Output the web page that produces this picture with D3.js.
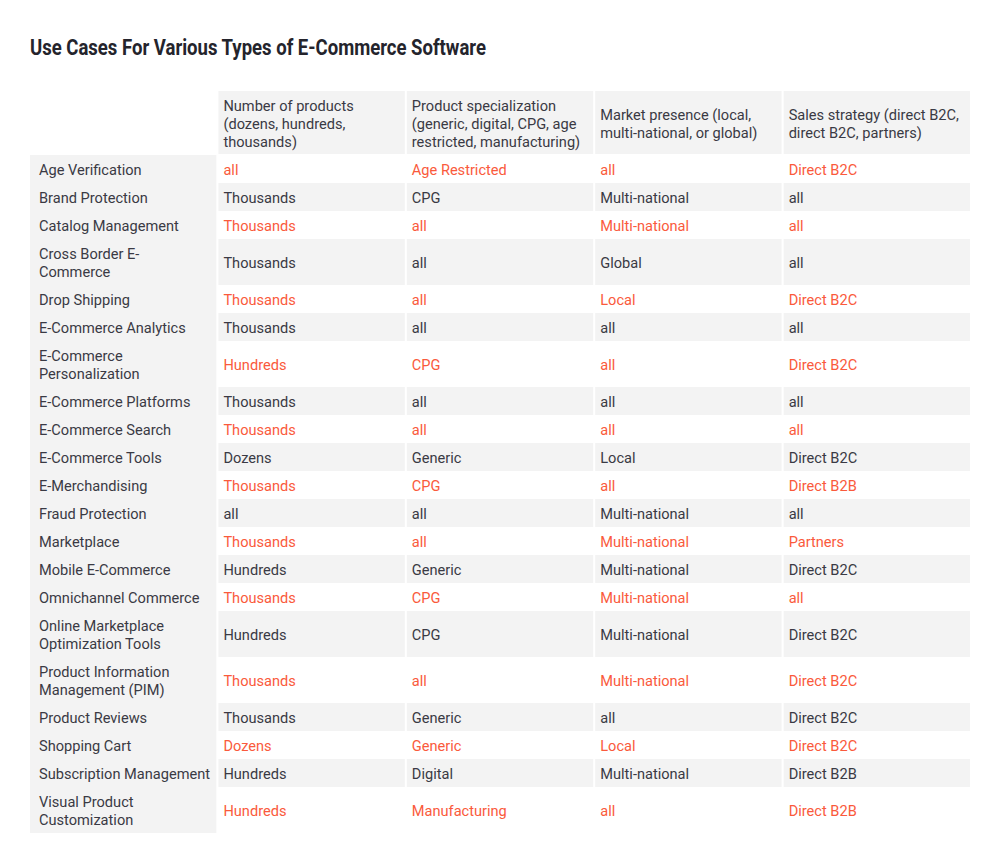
<!DOCTYPE html>
<html>
<head>
<meta charset="utf-8">
<script src="https://cdn.jsdelivr.net/npm/d3@7"></script>
<style>
  html, body { margin: 0; padding: 0; background: #fff; }
  svg { display: block; }
</style>
</head>
<body>
<svg id="chart" width="1000" height="864"></svg>
<script>
const title = "Use Cases For Various Types of E-Commerce Software";

const headers = [
  ["Number of products", "(dozens, hundreds,", "thousands)"],
  ["Product specialization", "(generic, digital, CPG, age", "restricted, manufacturing)"],
  ["Market presence (local,", "multi-national, or global)"],
  ["Sales strategy (direct B2C,", "direct B2C, partners)"]
];

const useCases = [
  ["Age Verification"],
  ["Brand Protection"],
  ["Catalog Management"],
  ["Cross Border E-", "Commerce"],
  ["Drop Shipping"],
  ["E-Commerce Analytics"],
  ["E-Commerce", "Personalization"],
  ["E-Commerce Platforms"],
  ["E-Commerce Search"],
  ["E-Commerce Tools"],
  ["E-Merchandising"],
  ["Fraud Protection"],
  ["Marketplace"],
  ["Mobile E-Commerce"],
  ["Omnichannel Commerce"],
  ["Online Marketplace", "Optimization Tools"],
  ["Product Information", "Management (PIM)"],
  ["Product Reviews"],
  ["Shopping Cart"],
  ["Subscription Management"],
  ["Visual Product", "Customization"]
];

const numberOfProducts = ["all","Thousands","Thousands","Thousands","Thousands","Thousands","Hundreds","Thousands","Thousands","Dozens","Thousands","all","Thousands","Hundreds","Thousands","Hundreds","Thousands","Thousands","Dozens","Hundreds","Hundreds"];
const productSpecialization = ["Age Restricted","CPG","all","all","all","all","CPG","all","all","Generic","CPG","all","all","Generic","CPG","CPG","all","Generic","Generic","Digital","Manufacturing"];
const marketPresence = ["all","Multi-national","Multi-national","Global","Local","all","all","all","all","Local","all","Multi-national","Multi-national","Multi-national","Multi-national","Multi-national","Multi-national","all","Local","Multi-national","all"];
const salesStrategy = ["Direct B2C","all","all","all","Direct B2C","all","Direct B2C","all","all","Direct B2C","Direct B2B","all","Partners","Direct B2C","all","Direct B2C","Direct B2C","Direct B2C","Direct B2C","Direct B2B","Direct B2B"];

const columns = [numberOfProducts, productSpecialization, marketPresence, salesStrategy];

// ---- layout ----
const FONT = "Roboto, 'Noto Sans', sans-serif";
const DARK = "#3a3a44";
const RED = "#fa5a3c";
const GRAY = "#f3f3f3";
const LINE = 18;
const FS = 14.6;

const svg = d3.select("#chart");

svg.append("text")
  .attr("x", 30).attr("y", 55)
  .attr("font-family", FONT)
  .attr("font-weight", 700)
  .attr("font-size", 22.5)
  .attr("fill", "#24242c")
  .attr("textLength", 456)
  .attr("lengthAdjust", "spacingAndGlyphs")
  .text(title);

const x = d3.scaleBand()
  .domain(d3.range(5))
  .range([30, 970])
  .paddingInner(0.0108)
  .paddingOuter(0);

const headerTop = 91;
const headerH = 64;
const rowsTop = headerTop + headerH;

// row heights from line counts
const rowH = useCases.map(r => 28 + (r.length - 1) * LINE);
const rowY = [];
let acc = rowsTop;
rowH.forEach(h => { rowY.push(acc); acc += h; });

// header cells
const hdr = svg.append("g");
headers.forEach((lines, j) => {
  const x0 = x(j + 1);
  hdr.append("rect")
    .attr("x", x0).attr("y", headerTop)
    .attr("width", x.bandwidth()).attr("height", headerH - 1)
    .attr("fill", GRAY);
  const t = hdr.append("text")
    .attr("font-family", FONT).attr("font-size", FS).attr("fill", DARK);
  const n = lines.length;
  const startY = headerTop + headerH / 2 - (n - 1) * LINE / 2 + 6;
  lines.forEach((ln, k) => {
    t.append("tspan").attr("x", x0 + 5).attr("y", startY + k * LINE).text(ln);
  });
});

// first column background (continuous)
svg.append("rect")
  .attr("x", x(0)).attr("y", rowsTop)
  .attr("width", x.bandwidth()).attr("height", acc - rowsTop)
  .attr("fill", GRAY);

const body = svg.append("g");
useCases.forEach((label, i) => {
  const y0 = rowY[i], h = rowH[i];
  const odd = i % 2 === 1;
  const color = odd ? DARK : RED;
  // label
  const t = body.append("text")
    .attr("font-family", FONT).attr("font-size", FS).attr("fill", DARK);
  const n = label.length;
  const sy = y0 + h / 2 - (n - 1) * LINE / 2 + 6;
  label.forEach((ln, k) => {
    t.append("tspan").attr("x", x(0) + 9).attr("y", sy + k * LINE).text(ln);
  });
  columns.forEach((col, j) => {
    const x0 = x(j + 1);
    if (odd) {
      body.append("rect")
        .attr("x", x0).attr("y", y0)
        .attr("width", x.bandwidth()).attr("height", h)
        .attr("fill", GRAY);
    }
    body.append("text")
      .attr("x", x0 + 5).attr("y", y0 + h / 2 + 6)
      .attr("font-family", FONT).attr("font-size", FS)
      .attr("fill", color)
      .text(col[i]);
  });
});
</script>
</body>
</html>
